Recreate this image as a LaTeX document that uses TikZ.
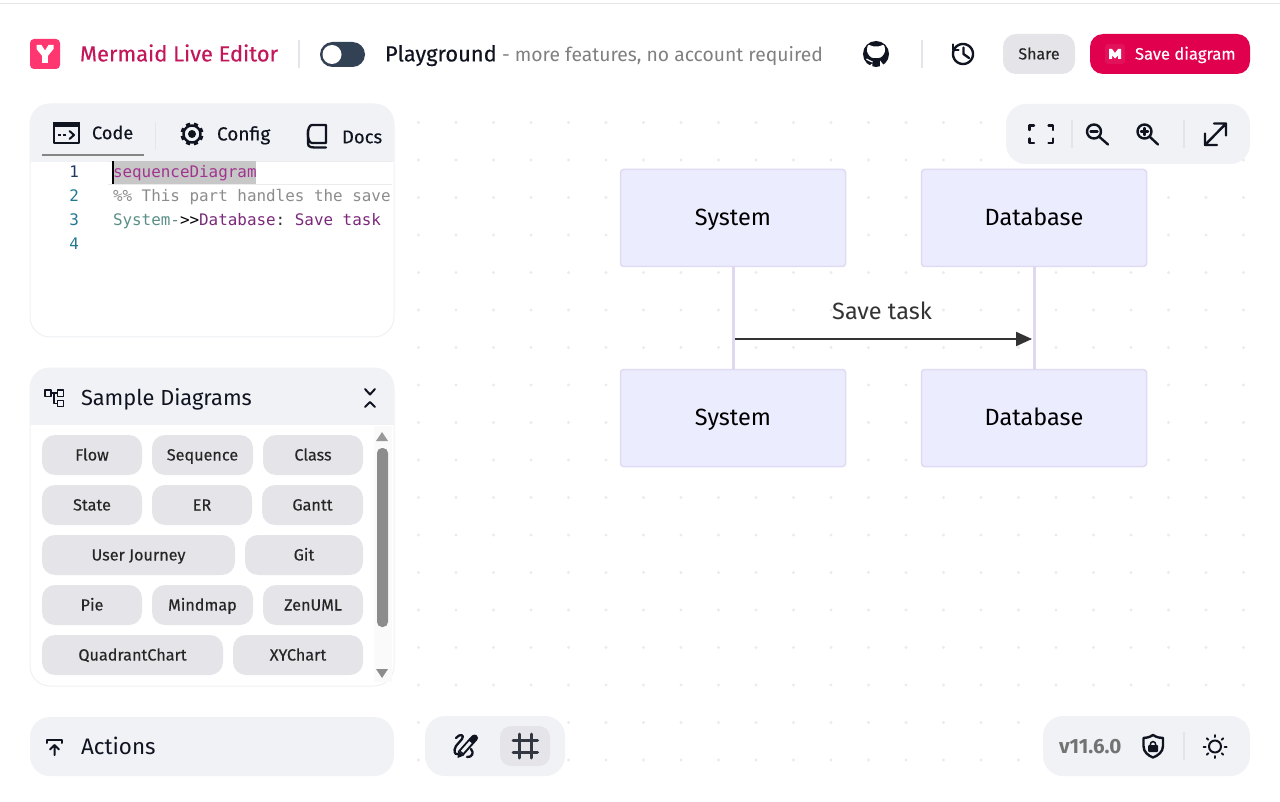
\documentclass[tikz,border=0pt]{standalone}
\usepackage{fontspec}
\setmainfont{Fira Sans}
\newfontfamily\medfont[FakeBold=0.25]{Fira Sans}
\newfontfamily\codefont{DejaVu Sans Mono}
\usetikzlibrary{arrows.meta}
\definecolor{panelbg}{HTML}{F1F2F6}
\definecolor{chipbg}{HTML}{E4E4E9}
\definecolor{divcol}{HTML}{E3E5EA}
\definecolor{panelline}{HTML}{EEF1F4}
\definecolor{ink}{HTML}{0F1420}
\definecolor{boxfill}{HTML}{ECECFF}
\definecolor{boxline}{HTML}{DFDBF2}
\definecolor{lifeline}{HTML}{E0D8F0}
\definecolor{rose}{HTML}{C2185B}
\definecolor{savebtn}{HTML}{E0004D}
\definecolor{numnavy}{HTML}{1E3A5F}
\definecolor{numteal}{HTML}{237893}
\definecolor{kwpurple}{HTML}{A0358F}
\definecolor{dbpurple}{HTML}{7A2A7A}
\definecolor{sysgreen}{HTML}{5A8F88}
\definecolor{commentgray}{HTML}{8C8C8C}
\newcommand{\fsz}[1]{\fontsize{#1}{#1}\selectfont}
\newcommand{\linestrut}{\rule[-0.22em]{0pt}{1.12em}}
\tikzset{
  txt/.style={inner sep=0pt,outer sep=0pt,execute at begin node=\linestrut,text=ink},
  chip/.style={txt,fill=chipbg,rounded corners=13pt,minimum height=40pt,font=\medfont\fsz{16.2},text=black!85},
  actor/.style={txt,draw=boxline,line width=1.5pt,fill=boxfill,rounded corners=3pt,minimum width=225pt,minimum height=97pt,font=\fsz{23.5},text=black},
  life/.style={lifeline,line width=3pt},
  ico/.style={draw=ink,line width=2.4pt,line cap=round,line join=round},
  divider/.style={divcol,line width=1.8pt},
  codeline/.style={inner sep=0pt,outer sep=0pt,anchor=base west,font=\codefont\fsz{15.9}\frenchspacing},
  lnum/.style={inner sep=0pt,outer sep=0pt,anchor=base east,font=\codefont\fsz{15.9}},
}
\newcommand{\softpanel}[5]{%
  \fill[white,draw=panelline,line width=1pt,rounded corners=20pt] (#1,#2) rectangle (#3,#4);
  \begin{scope}\clip[rounded corners=20pt] (#1,#2) rectangle (#3,#4);
  \fill[panelbg] (#1,#2) rectangle (#3,#5);\end{scope}}
\begin{document}
\begin{tikzpicture}[x=1pt,y=-1pt]
\useasboundingbox (0,0) rectangle (1280,802);
\fill[white] (0,0) rectangle (1280,802);
\fill[black!10] (0,3) rectangle (1280,4);
% dotted canvas
\foreach \i in {0,...,22}{\foreach \j in {0,...,17}{
  \fill[black!8] ({418.5+37.5*\i},{122.5+37.5*\j}) circle (1.6pt);}}

% ---- top bar
\fill[rounded corners=4pt,fill={rgb,255:red,255;green,54;blue,112}] (30,39) rectangle (60,69);
\fill[white,line join=round] (36.5,45) -- (41.5,45) -- (45,50.5) -- (48.5,45) -- (53.5,45) -- (53.5,49) -- (47.8,56) -- (47.8,63) -- (42.2,63) -- (42.2,56) -- (36.5,49) -- cycle;
\node[txt,anchor=west,font=\medfont\fsz{21.9},text=rose] (title) at (80,54) {Mermaid Live Editor};
\draw[divider] (299,40) -- (299,68);
\fill[fill={rgb,255:red,51;green,65;blue,85},rounded corners=12.5pt] (320,42) rectangle (365,67);
\fill[white] (332,54.5) circle (9.5pt);
\node[txt,anchor=west,font=\medfont\fsz{21.9},text=ink] (play) at (385,54) {Playground};
\node[txt,anchor=west,font=\fsz{19.3},text=black!50] (playsub) at (502,55) {- more features, no account required};
% github
\fill[ink] (876,54) circle (13pt);
\fill[white,rounded corners=2.5pt] (868,44) -- (872,46.5) -- (880,46.5) -- (884,44) -- (885.5,51.5) -- (881,58) -- (871,58) -- (866.5,51.5) -- cycle;
\draw[white,line width=1.2pt] (866.5,59) .. controls (869,59) and (869,62) .. (872.5,62);
\fill[white] (872.3,67.5) -- (872.3,63.5) -- (868.5,66.2) -- cycle;
\fill[white] (880,67.5) -- (880,60.5) -- (884,65.5) -- cycle;
\draw[divider] (922,40) -- (922,68);
% history
\draw[ico] plot[domain=-215:145,samples=50] ({963+10*cos(\x)},{54-10*sin(\x)});
\draw[ico] (953,44.5) -- (953,50) -- (958.5,50);
\draw[ico] (963.5,47.5) -- (963.5,54) -- (969,58);
% share / save
\node[txt,fill=chipbg,rounded corners=13pt,minimum width=72pt,minimum height=40pt,font=\medfont\fsz{16},text=black!85] (share) at (1039,54) {Share};
\fill[savebtn,rounded corners=13pt] (1090,34) rectangle (1250,74);
\fill[savebtn!93!white,rounded corners=3pt] (1105,44) rectangle (1125,64);
\fill[white] (1109,49) -- (1112,49) -- (1115,53) -- (1118,49) -- (1121,49) -- (1121,59) -- (1118,59) -- (1118,55.5) -- (1115,58.5) -- (1112,55.5) -- (1112,59) -- (1109,59) -- cycle;
\node[txt,anchor=west,font=\medfont\fsz{16.6},text=white] (savetxt) at (1135,54) {Save diagram};

% ---- code panel
\softpanel{30}{104}{394}{337}{162}
\draw[ico,line width=2pt] (54,123) rectangle (79,143.5);
\fill[ink] (53,122) rectangle (80,127);
\draw[ink,line width=2pt] (58,135) -- (60.5,135) (63,135) -- (65.5,135);
\draw[ink,line width=2pt,line cap=round,line join=round] (69.5,131) -- (74,135) -- (69.5,139);
\node[txt,anchor=west,font=\medfont\fsz{18.2}] (code) at (92,133) {Code};
\fill[black!48] (42,154) rectangle (144,156.5);
\draw[divider] (155.5,122) -- (155.5,150);
% gear
\foreach \a in {0,45,...,315}{\draw[ink,line width=4.2pt] ({192+8*cos(\a+22.5)},{134+8*sin(\a+22.5)}) -- ({192+11.5*cos(\a+22.5)},{134+11.5*sin(\a+22.5)});}
\draw[ink,line width=2.4pt,fill=panelbg] (192,134) circle (8.5pt);
\fill[ink] (192,134) circle (4pt);
\node[txt,anchor=west,font=\medfont\fsz{19}] (config) at (217,134) {Config};
% book
\draw[ico,line width=2.3pt] (312,125) -- (326,125) -- (326,143) -- (312,143) .. controls (306.5,143) and (306.5,125) .. (312,125) -- cycle;
\draw[ico,line width=2.3pt] (308,130) -- (308,143) .. controls (308,148) and (310,147.5) .. (326,147.5);
\node[txt,anchor=west,font=\medfont\fsz{18.5}] (docs) at (342,137) {Docs};
% editor
\draw[black!8,line width=1pt] (108,162) -- (392,162) (108,184.5) -- (392,184.5);
\fill[black!22] (113,161.5) rectangle (256,184.5);
\fill[black] (112,161.5) rectangle (113.8,184.5);
\node[lnum,text=numnavy] (n1) at (79,177.8) {1};
\node[lnum,text=numteal] (n2) at (79,201.6) {2};
\node[lnum,text=numteal] (n3) at (79,225.5) {3};
\node[lnum,text=numteal] (n4) at (79,249.3) {4};
\node[codeline,text=kwpurple] (l1) at (113,177.8) {sequenceDiagram};
\node[codeline,text=commentgray] (l2) at (113,201.6) {\%\% This part handles the save};
\node[codeline] (l3) at (113,225.5) {\textcolor{sysgreen}{System-}\textcolor{black}{>>}\textcolor{dbpurple}{Database}\textcolor{black!80}{:} \textcolor{dbpurple}{Save task}};

% ---- samples panel
\softpanel{30}{368}{394}{686}{425}
\draw[ink,line width=1.8pt,line join=round] (45,390) rectangle (51,396.5) (57.5,390) rectangle (63.5,396.5) (57.5,400.5) rectangle (63.5,406.5);
\draw[ink,line width=1.8pt,line join=round] (51,393) -- (57.5,393) (54,393) -- (54,403.5) -- (57.5,403.5);
\node[txt,anchor=west,font=\fsz{21.8}] (samples) at (81,398) {Sample Diagrams};
\draw[ico,line width=2pt] (365,389) -- (370,394.5) -- (375,389) (365,407) -- (370,402) -- (375,407);
\fill[black!2] (374,426) rectangle (392,682);
\fill[black!40] (382,432) -- (388,441) -- (376,441) -- cycle;
\fill[black!45] (382,678) -- (388,669) -- (376,669) -- cycle;
\fill[black!45,rounded corners=5pt] (377,448) rectangle (388,627);
\node[chip,minimum width=100pt] (flow) at (92,455) {Flow};
\node[chip,minimum width=101pt] (seq) at (202.5,455) {Sequence};
\node[chip,minimum width=100pt] (class) at (313,455) {Class};
\node[chip,minimum width=100pt] (state) at (92,505) {State};
\node[chip,minimum width=100pt] (er) at (202,505) {ER};
\node[chip,minimum width=101pt] (gantt) at (312.5,505) {Gantt};
\node[chip,minimum width=193pt] (uj) at (138.5,555) {User Journey};
\node[chip,minimum width=118pt] (git) at (304,555) {Git};
\node[chip,minimum width=100pt] (pie) at (92,605) {Pie};
\node[chip,minimum width=101pt] (mind) at (202.5,605) {Mindmap};
\node[chip,minimum width=100pt] (zen) at (313,605) {ZenUML};
\node[chip,minimum width=181pt] (quad) at (132.5,655) {QuadrantChart};
\node[chip,minimum width=130pt] (xy) at (298,655) {XYChart};

% ---- actions
\fill[panelbg,rounded corners=20pt] (30,717) rectangle (394,776);
\draw[ico,line width=2pt] (47,743) -- (47,740) -- (62,740) -- (62,743);
\draw[ico,line width=2pt] (54.5,755) -- (54.5,745) (50,749.5) -- (54.5,745) -- (59,749.5);
\node[txt,anchor=west,font=\fsz{22.4}] (actions) at (81,747) {Actions};

% ---- canvas tools
\fill[panelbg,rounded corners=20pt] (425,716) rectangle (565,776);
\fill[chipbg,rounded corners=11pt] (500,726) rectangle (550,766);
\draw[ink,line width=7pt] (461,753) -- (473,739.5);
\draw[panelbg,line width=3pt] (462,751.8) -- (470.5,742.2);
\fill[ink] (457.5,758) -- (458,750.5) -- (464,755.5) -- cycle;
\draw[ico,line width=7pt,line cap=round] (473.5,739) -- (474.5,738);
\draw[ico,line width=2.3pt] (456,738) .. controls (460,733) and (465,735) .. (462,739) -- (456,746) .. controls (453,751) and (455,755) .. (457.5,754);
\draw[ico,line width=2.3pt] (471,749) .. controls (474.5,753) and (472,757.5) .. (467,757);
\draw[ico,line width=3pt,draw=ink!85] (519.5,734) -- (519.5,758) (531.5,734) -- (531.5,758) (513,740) -- (537.5,740) (513,752) -- (537.5,752);

\fill[panelbg,rounded corners=20pt] (1043,716) rectangle (1250,776);
\node[txt,anchor=west,font=\bfseries\fsz{20.6},text=black!55] (ver) at (1059,746.5) {v11.6.0};
\draw[ico,line join=round] (1153,735) .. controls (1157,737.5) and (1160,738) .. (1163,738) -- (1163,746) .. controls (1163,752) and (1158,755.5) .. (1153,757.5) .. controls (1148,755.5) and (1143.5,752) .. (1143.5,746) -- (1143.5,738) .. controls (1146,738) and (1149,737.5) .. (1153,735) -- cycle;
\fill[ink,rounded corners=1pt] (1148,745) rectangle (1158,752);
\draw[ink,line width=1.5pt] (1150,746) .. controls (1150,740) and (1156,740) .. (1156,746);
\draw[divider] (1184,732) -- (1184,760);
\draw[ico,line width=2pt] (1215,746.5) circle (6pt);
\foreach \a in {0,45,...,315}{\draw[ico,line width=2pt] ({1215+9.5*cos(\a)},{746.5+9.5*sin(\a)}) -- ({1215+11.5*cos(\a)},{746.5+11.5*sin(\a)});}

% ---- zoom toolbar
\fill[panelbg,rounded corners=20pt] (1006,104) rectangle (1250,164);
\draw[ico] (1029.5,130) -- (1029.5,125.5) -- (1034,125.5) (1048.5,125.5) -- (1053,125.5) -- (1053,130)
           (1053,138.5) -- (1053,143) -- (1048.5,143) (1034,143) -- (1029.5,143) -- (1029.5,138.5);
\draw[divider] (1072,120) -- (1072,148) (1184,120) -- (1184,148);
\draw[ico] (1094,131.5) circle (7pt) (1099.5,137) -- (1108,144.5);
\draw[ico] (1090.5,131.5) -- (1097.5,131.5);
\draw[ico] (1144.5,131.5) circle (7pt) (1150,137) -- (1158,144.5);
\draw[ico] (1141,131.5) -- (1148,131.5) (1144.5,128) -- (1144.5,135);
\draw[ico] (1205,145) -- (1226,123.5) (1214,123.5) -- (1226,123.5) -- (1226,135.5) (1205,133.5) -- (1205,145) -- (1217,145);

% ---- sequence diagram
\node[actor] (sysTop) at (733,218) {System};
\node[actor] (dbTop) at (1034,218) {Database};
\node[actor] (sysBot) at (733,418) {System};
\node[actor] (dbBot) at (1034,418) {Database};
\draw[life] (sysTop.south) -- (sysBot.north);
\draw[life] (dbTop.south) -- (dbBot.north);
\coordinate (msgA) at (735,339);
\coordinate (msgB) at (1032,339);
\draw[-{Triangle[length=16pt,width=14pt]},line width=2.2pt,draw=black!80,fill=black!80] (msgA) -- (msgB);
\node[txt,font=\fsz{23.5},text=black!80] (msg) at (882,312) {Save task};
\end{tikzpicture}
\end{document}
